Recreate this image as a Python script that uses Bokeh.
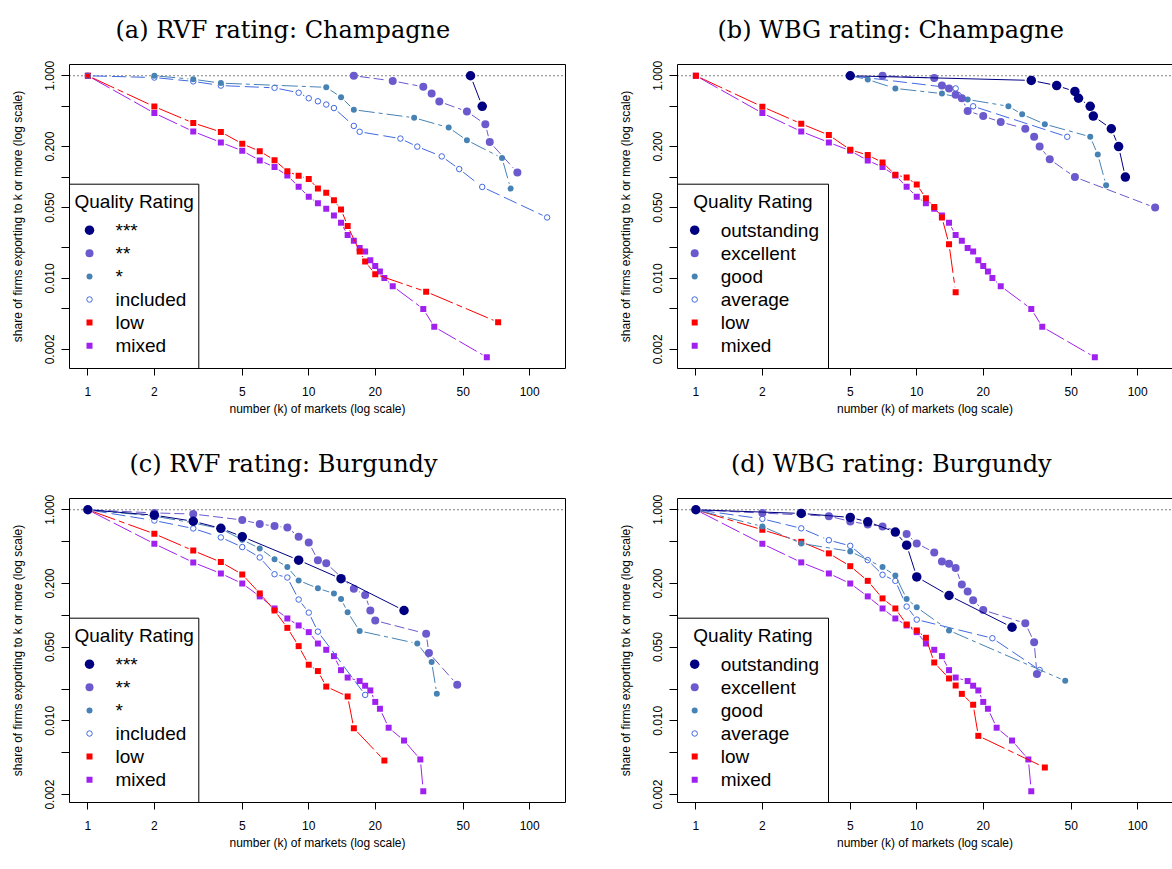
import json
import math
from bokeh.plotting import figure
from bokeh.layouts import gridplot
from bokeh.models import FixedTicker, LinearAxis, Span, CustomJSTickFormatter, Range1d
from bokeh.embed import file_html
from bokeh.resources import INLINE
from bokeh.core.properties import value

# ------------------------------------------------------------------ data
x_ticks = [1, 2, 5, 10, 20, 50, 100]
x_tick_labels = ["1", "2", "5", "10", "20", "50", "100"]
y_ticks = [0.002, 0.005, 0.01, 0.02, 0.05, 0.1, 0.2, 0.5, 1.0]
y_tick_labels = ["0.002", "", "0.010", "", "0.050", "", "0.200", "", "1.000"]

panel_titles = ["(a) RVF rating: Champagne", "(b) WBG rating: Champagne",
                "(c) RVF rating: Burgundy", "(d) WBG rating: Burgundy"]
legend_title = "Quality Rating"
rvf_names = ["***", "**", "*", "included", "low", "mixed"]
wbg_names = ["outstanding", "excellent", "good", "average", "low", "mixed"]
x_title = "number (k) of markets (log scale)"
y_title = "share of firms exporting to k or more (log scale)"

# mixed-rating firms (same group in RVF and WBG panels)
mixed_ch_k = [1, 2, 3, 4, 5, 6, 7, 8, 9, 10, 11, 12, 13, 14, 15, 16, 17, 18, 19, 20, 21, 22, 24, 33, 37, 64]
mixed_ch_s = [1.0, 0.428, 0.282, 0.22, 0.182, 0.146, 0.1255, 0.1038, 0.0803, 0.064, 0.0553, 0.0487, 0.0418,
              0.0355, 0.0268, 0.0236, 0.02, 0.0185, 0.0151, 0.0133, 0.0117, 0.0101, 0.0084, 0.005, 0.00333, 0.00167]
mixed_bu_k = [1, 2, 3, 4, 5, 6, 7, 8, 9, 10, 11, 12, 13, 14, 15, 17, 18, 19, 20, 21, 23, 27, 32, 33]
mixed_bu_s = [1.0, 0.476, 0.317, 0.249, 0.2, 0.151, 0.116, 0.0933, 0.0801, 0.0692, 0.054, 0.0471, 0.041,
              0.0302, 0.0257, 0.0238, 0.0215, 0.0194, 0.0151, 0.013, 0.0086, 0.0065, 0.0043, 0.00215]

# (a) RVF Champagne
rvf_ch_3_k = [54, 61]
rvf_ch_3_s = [1.0, 0.5]
rvf_ch_2_k = [16, 24, 33, 36, 39, 52, 63, 66, 88]
rvf_ch_2_s = [1.0, 0.889, 0.778, 0.667, 0.556, 0.444, 0.333, 0.222, 0.111]
rvf_ch_1_k = [2, 3, 4, 12, 14, 16, 30, 43, 52, 75, 82]
rvf_ch_1_s = [1.0, 0.923, 0.846, 0.769, 0.615, 0.462, 0.385, 0.308, 0.231, 0.154, 0.077]
rvf_ch_inc_k = [1, 2, 3, 4, 7, 9, 10, 11, 12, 13, 16, 17, 26, 31, 40, 48, 61, 120]
rvf_ch_inc_s = [1.0, 0.96, 0.88, 0.80, 0.76, 0.68, 0.60, 0.56, 0.52, 0.48, 0.32, 0.28, 0.24, 0.20, 0.16, 0.12, 0.08, 0.04]
rvf_ch_low_k = [1, 2, 3, 4, 5, 6, 7, 8, 9, 10, 11, 12, 13, 14, 15, 17, 18, 20, 34, 72]
rvf_ch_low_s = [1.0, 0.496, 0.342, 0.279, 0.213, 0.180, 0.147, 0.114, 0.103, 0.096, 0.077, 0.070, 0.059,
                0.048, 0.033, 0.0184, 0.0147, 0.0110, 0.0074, 0.0037]

# (b) WBG Champagne
wbg_ch_out_k = [5, 33, 43, 52, 54, 61, 63, 76, 82, 88]
wbg_ch_out_s = [1.0, 0.9, 0.8, 0.7, 0.6, 0.5, 0.4, 0.3, 0.2, 0.1]
wbg_ch_exc_k = [7, 12, 13, 14, 15, 16, 17, 20, 24, 31, 34, 36, 40, 52, 120]
wbg_ch_exc_s = [1.0, 0.95, 0.80, 0.75, 0.65, 0.60, 0.45, 0.40, 0.35, 0.30, 0.25, 0.20, 0.15, 0.10, 0.05]
wbg_ch_good_k = [5, 6, 8, 13, 17, 26, 30, 38, 61, 66, 72]
wbg_ch_good_s = [1.0, 0.917, 0.75, 0.667, 0.583, 0.5, 0.417, 0.333, 0.25, 0.167, 0.083]
wbg_ch_avg_k = [5, 15, 18, 48]
wbg_ch_avg_s = [1.0, 0.75, 0.5, 0.25]
wbg_ch_low_k = [1, 2, 3, 4, 5, 6, 7, 8, 9, 10, 11, 12, 13, 14, 15]
wbg_ch_low_s = [1.0, 0.495, 0.336, 0.26, 0.186, 0.165, 0.1395, 0.1054, 0.099, 0.0845, 0.062, 0.0506, 0.04, 0.0218, 0.0073]

# (c) RVF Burgundy
rvf_bu_3_k = [1, 2, 3, 4, 5, 9, 14, 27]
rvf_bu_3_s = [1.0, 0.889, 0.778, 0.667, 0.556, 0.333, 0.222, 0.111]
rvf_bu_2_k = [1, 2, 3, 5, 6, 7, 8, 9, 10, 11, 12, 16, 18, 19, 20, 34, 35, 47]
rvf_bu_2_s = [1.0, 0.933, 0.911, 0.80, 0.733, 0.70, 0.68, 0.556, 0.489, 0.333, 0.311, 0.178, 0.156, 0.111,
              0.089, 0.067, 0.044, 0.022]
rvf_bu_1_k = [1, 2, 3, 4, 5, 6, 7, 8, 9, 11, 13, 14, 15, 17, 31, 36, 38]
rvf_bu_1_s = [1.0, 0.87, 0.75, 0.66, 0.52, 0.43, 0.34, 0.286, 0.214, 0.18, 0.161, 0.143, 0.107, 0.071, 0.054, 0.036, 0.018]
rvf_bu_inc_k = [1, 2, 3, 4, 5, 6, 7, 8, 9, 10, 11, 18]
rvf_bu_inc_s = [1.0, 0.79, 0.665, 0.547, 0.443, 0.353, 0.245, 0.228, 0.141, 0.106, 0.070, 0.0176]
rvf_bu_low_k = [1, 2, 3, 4, 5, 6, 7, 8, 9, 10, 11, 12, 15, 16, 22]
rvf_bu_low_s = [1.0, 0.592, 0.41, 0.319, 0.244, 0.161, 0.111, 0.076, 0.051, 0.034, 0.0296, 0.0211, 0.017, 0.0085, 0.0042]

# (d) WBG Burgundy
wbg_bu_out_k = [1, 3, 5, 6, 8, 9, 10, 14, 27]
wbg_bu_out_s = [1.0, 0.923, 0.846, 0.769, 0.615, 0.462, 0.231, 0.154, 0.077]
wbg_bu_exc_k = [1, 2, 4, 5, 6, 7, 9, 10, 12, 13, 14, 15, 16, 17, 18, 20, 31, 34, 35]
wbg_bu_exc_s = [1.0, 0.93, 0.87, 0.776, 0.726, 0.695, 0.588, 0.48, 0.394, 0.324, 0.308, 0.28, 0.196, 0.168,
                0.139, 0.112, 0.084, 0.0556, 0.0278]
wbg_bu_good_k = [1, 2, 3, 5, 7, 8, 9, 10, 14, 47]
wbg_bu_good_s = [1.0, 0.695, 0.48, 0.403, 0.286, 0.238, 0.143, 0.119, 0.0718, 0.0239]
wbg_bu_avg_k = [1, 2, 3, 4, 5, 6, 7, 8, 9, 10, 22, 36]
wbg_bu_avg_s = [1.0, 0.82, 0.667, 0.515, 0.455, 0.333, 0.242, 0.212, 0.121, 0.091, 0.0606, 0.0303]
wbg_bu_low_k = [1, 2, 3, 4, 5, 6, 7, 8, 9, 10, 11, 12, 14, 15, 16, 18, 19, 38]
wbg_bu_low_s = [1.0, 0.646, 0.497, 0.386, 0.292, 0.212, 0.1445, 0.116, 0.0818, 0.0718, 0.0612, 0.0357,
                0.0252, 0.0216, 0.018, 0.0142, 0.0072, 0.0036]

# ------------------------------------------------------------------ styles
COLORS = ["#000080", "#6A5ACD", "#4682B4", "#4169E1", "#FF0000", "#A020F0"]
MARKERS = ["circle", "circle", "circle", "circle", "square", "square"]
SIZES = [9.5, 8, 6, 5.5, 6, 6]
FILLED = [True, True, True, False, True, True]
DASHES = ["solid", "10 4", "16 4 4 4", "14 5", "24 4 6 4", "20 4"]
GAPS = [6.5, 6, 5, 5, 5, 5]

SANS = "Liberation Sans"
SERIF = "DejaVu Serif"

LEFT_B = 69
TOP_B = 64
FRAME_W = 496
FRAME_H = 304
LEFT_FIG_W = 608
TOTAL_W = 1172
RIGHT_B = LEFT_FIG_W - LEFT_B - FRAME_W
FRAME_W_R = TOTAL_W - LEFT_FIG_W - LEFT_B
TITLE_CENTER = 213.0                  # title centre, px right of the frame's left edge
TITLE_WIDTHS = [334, 346, 306, 319]   # rendered width estimates of the titles (px)
TOP_SPACER = 14                       # extra space between frame and title (px)
TITLE_STANDOFF = 6

panels = [
    dict(title=panel_titles[0], names=rvf_names, right=False, height=434, bottom=66,
         series=[(rvf_ch_3_k, rvf_ch_3_s), (rvf_ch_2_k, rvf_ch_2_s), (rvf_ch_1_k, rvf_ch_1_s),
                 (rvf_ch_inc_k, rvf_ch_inc_s), (rvf_ch_low_k, rvf_ch_low_s), (mixed_ch_k, mixed_ch_s)]),
    dict(title=panel_titles[1], names=wbg_names, right=True, height=434, bottom=66,
         series=[(wbg_ch_out_k, wbg_ch_out_s), (wbg_ch_exc_k, wbg_ch_exc_s), (wbg_ch_good_k, wbg_ch_good_s),
                 (wbg_ch_avg_k, wbg_ch_avg_s), (wbg_ch_low_k, wbg_ch_low_s), (mixed_ch_k, mixed_ch_s)]),
    dict(title=panel_titles[2], names=rvf_names, right=False, height=435, bottom=67,
         series=[(rvf_bu_3_k, rvf_bu_3_s), (rvf_bu_2_k, rvf_bu_2_s), (rvf_bu_1_k, rvf_bu_1_s),
                 (rvf_bu_inc_k, rvf_bu_inc_s), (rvf_bu_low_k, rvf_bu_low_s), (mixed_bu_k, mixed_bu_s)]),
    dict(title=panel_titles[3], names=wbg_names, right=True, height=435, bottom=67,
         series=[(wbg_bu_out_k, wbg_bu_out_s), (wbg_bu_exc_k, wbg_bu_exc_s), (wbg_bu_good_k, wbg_bu_good_s),
                 (wbg_bu_avg_k, wbg_bu_avg_s), (wbg_bu_low_k, wbg_bu_low_s), (mixed_bu_k, mixed_bu_s)]),
]

all_k = [k for pn in panels for ks, _ in pn["series"] for k in ks]
K_MIN, K_MAX = min(all_k), max(all_k)
LX0, LX1 = math.log10(K_MIN), math.log10(K_MAX)
EX = 0.04 * (LX1 - LX0)
PPD_X = FRAME_W / (LX1 - LX0 + 2 * EX)


def formatter(ticks, labels):
    code = ("const T = %s; const L = %s;"
            "for (let i = 0; i < T.length; i++) { if (Math.abs(tick / T[i] - 1) < 1e-6) return L[i]; }"
            "return '';") % (json.dumps(ticks), json.dumps(labels))
    return CustomJSTickFormatter(code=code)


def gapped(ks, ss, gap, ppdx, ppdy):
    xs, ys = [], []
    for i in range(len(ks) - 1):
        u0, v0 = math.log10(ks[i]) * ppdx, math.log10(ss[i]) * ppdy
        u1, v1 = math.log10(ks[i + 1]) * ppdx, math.log10(ss[i + 1]) * ppdy
        d = math.hypot(u1 - u0, v1 - v0)
        if d <= 2 * gap + 0.5:
            continue
        f = gap / d
        ua, va = u0 + (u1 - u0) * f, v0 + (v1 - v0) * f
        ub, vb = u1 - (u1 - u0) * f, v1 - (v1 - v0) * f
        xs.append([10 ** (ua / ppdx), 10 ** (ub / ppdx)])
        ys.append([10 ** (va / ppdy), 10 ** (vb / ppdy)])
    return xs, ys


def edge_axis(spacer=0):
    ax = LinearAxis(ticker=FixedTicker(ticks=[]), major_label_text_font_size="0px",
                    major_tick_line_color=None, minor_tick_line_color=None,
                    major_tick_out=0, major_tick_in=0,
                    axis_line_color="black", axis_line_width=1, major_label_standoff=0)
    if spacer > 0:
        # an invisible axis label only used to open space between frame and title
        ax.axis_label = "\u00a0"
        ax.axis_label_text_font_size = "1px"
        ax.axis_label_standoff = spacer
    return ax


def build(idx, pn):
    right = pn["right"]
    fw = FRAME_W_R if right else FRAME_W
    x_start = 10 ** (LX0 - EX)
    x_end = 10 ** (LX0 - EX + fw / PPD_X)
    s_min = min(min(ss) for _, ss in pn["series"])
    ly0, ly1 = math.log10(s_min), 0.0
    ey = 0.04 * (ly1 - ly0)
    y_start, y_end = 10 ** (ly0 - ey), 10 ** (ly1 + ey)
    ppdy = FRAME_H / (ly1 - ly0 + 2 * ey)
    width = LEFT_B + fw + (0 if right else RIGHT_B)

    p = figure(width=width, height=pn["height"], x_axis_type="log", y_axis_type="log",
               x_range=Range1d(x_start, x_end), y_range=Range1d(y_start, y_end),
               output_backend="svg", toolbar_location=None, title=pn["title"],
               min_border_left=LEFT_B, min_border_right=(0 if right else RIGHT_B),
               min_border_top=TOP_B, min_border_bottom=pn["bottom"])
    p.outline_line_color = None
    p.xgrid.visible = False
    p.ygrid.visible = False
    p.background_fill_color = "white"
    p.border_fill_color = "white"

    # title
    p.title.text_font = SERIF
    p.title.text_font_size = "24px"
    p.title.text_font_style = "normal"
    p.title.text_color = "black"
    p.title.align = "left"
    p.title.vertical_align = "bottom"
    p.title.offset = TITLE_CENTER - TITLE_WIDTHS[idx] / 2.0
    if "standoff" in p.title.properties():
        p.title.standoff = TITLE_STANDOFF

    # axes
    for ax in p.xaxis:
        ax.ticker = FixedTicker(ticks=x_ticks)
        ax.formatter = formatter(x_ticks, x_tick_labels)
        ax.axis_label = x_title
    for ax in p.yaxis:
        ax.ticker = FixedTicker(ticks=y_ticks)
        ax.formatter = formatter(y_ticks, y_tick_labels)
        ax.axis_label = y_title
        ax.major_label_orientation = "vertical"
    for ax in list(p.xaxis) + list(p.yaxis):
        ax.axis_line_color = "black"
        ax.axis_line_width = 1
        ax.major_tick_line_color = "black"
        ax.major_tick_in = 0
        ax.minor_tick_line_color = None
        ax.major_label_text_font = SANS
        ax.major_label_text_font_size = "12px"
        ax.major_label_text_color = "black"
        ax.axis_label_text_font = SANS
        ax.axis_label_text_font_size = "12px"
        ax.axis_label_text_font_style = "normal"
        ax.axis_label_text_color = "black"
    for ax in p.xaxis:
        ax.major_tick_out = 7
        ax.major_label_standoff = 11
        ax.axis_label_standoff = 3
    for ax in p.yaxis:
        ax.major_tick_out = 8
        ax.major_label_standoff = 7
        ax.axis_label_standoff = 18
    p.add_layout(edge_axis(TOP_SPACER), "above")
    if not right:
        p.add_layout(edge_axis(0), "right")

    # dotted reference line at share = 1
    ref = Span(location=1.0, dimension="width", line_color="black", line_width=1, line_dash="1 3")
    ref.level = "underlay"
    p.add_layout(ref)

    # series: drawn from mixed (last) to top rating (first)
    for i in reversed(range(6)):
        ks, ss = pn["series"][i]
        xs, ys = gapped(ks, ss, GAPS[i], PPD_X, ppdy)
        if xs:
            p.multi_line(xs, ys, line_color=COLORS[i], line_width=1, line_dash=DASHES[i])
        if FILLED[i]:
            p.scatter(ks, ss, marker=MARKERS[i], size=SIZES[i], fill_color=COLORS[i], line_color=None)
        else:
            p.scatter(ks, ss, marker=MARKERS[i], size=SIZES[i], fill_color=None,
                      line_color=COLORS[i], line_width=1)

    # legend (R style, bottom-left, positioned in frame pixels)
    def dx(px):
        return 10 ** (math.log10(x_start) + px / PPD_X)

    def dy(py):
        return 10 ** (math.log10(y_end) - py / ppdy)

    rvf = pn["names"] is rvf_names
    lw = 129.3 if rvf else 151.0
    sym_x = 20.0 if rvf else 17.2
    txt_x = 46.0 if rvf else 43.2
    p.quad(left=[x_start], right=[dx(lw)], top=[dy(119.7)], bottom=[y_start],
           fill_color="white", line_color="black", line_width=1)
    p.text(x=[dx(lw / 2.0)], y=[dy(137.4)], text=[legend_title], text_align="center",
           text_baseline="middle", text_font=value(SANS), text_font_size="19px", text_color="black")
    for i, name in enumerate(pn["names"]):
        yy = dy(165.7 + 23.1 * i)
        if FILLED[i]:
            p.scatter([dx(sym_x)], [yy], marker=MARKERS[i], size=SIZES[i], fill_color=COLORS[i], line_color=None)
        else:
            p.scatter([dx(sym_x)], [yy], marker=MARKERS[i], size=SIZES[i], fill_color=None,
                      line_color=COLORS[i], line_width=1)
        p.text(x=[dx(txt_x)], y=[yy], text=[name], text_align="left", text_baseline="middle",
               text_font=value(SANS), text_font_size="19px", text_color="black")
    return p


figs = [build(i, pn) for i, pn in enumerate(panels)]
grid = gridplot([[figs[0], figs[1]], [figs[2], figs[3]]], toolbar_location=None)

open("out.html", "w").write(file_html(grid, INLINE))
